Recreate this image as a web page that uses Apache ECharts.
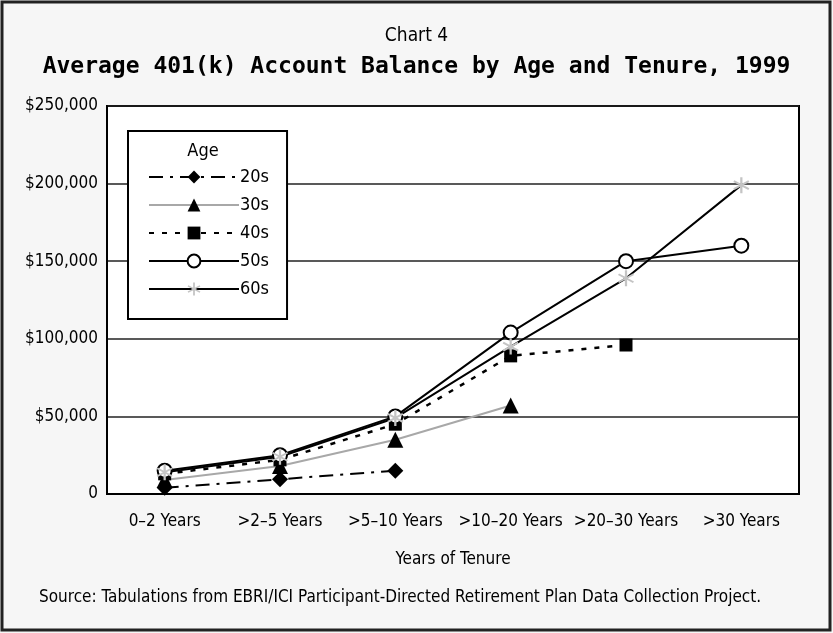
<!DOCTYPE html>
<html>
<head>
<meta charset="utf-8">
<script src="https://cdn.jsdelivr.net/npm/echarts@6/dist/echarts.min.js"></script>
<style>
	html, body { margin: 0; padding: 0; background: #fff; }
	#chart { width: 833px; height: 633px; }
</style>
</head>
<body>
<div id="chart"></div>
<script>
	var tenure = ['0\u20132 Years', '>2\u20135 Years', '>5\u201310 Years', '>10\u201320 Years', '>20\u201330 Years', '>30 Years'];
	var age20s = [4000, 9500, 15000];
	var age30s = [9000, 18000, 35000, 57000];
	var age40s = [13000, 22000, 45000, 89000, 96000];
	var age50s = [15000, 25000, 50000, 104000, 150000, 160000];
	var age60s = [14000, 24000, 49000, 95000, 139000, 199000];
	var yTicks = [0, 50000, 100000, 150000, 200000, 250000];

	var narrow = "'DejaVu Sans Condensed', 'Liberation Sans', sans-serif";
	// asterisk marker, three bars
	var asterisk = 'path://M-1.3,-10L1.3,-10L1.3,10L-1.3,10Z' +
		'M8.06,6.04L-9.26,-3.96L-8.06,-6.04L9.26,3.96Z' +
		'M-8.06,6.04L-9.26,3.96L8.06,-6.04L9.26,-3.96Z';

	function money(v) {
		if (v === 0) return '0';
		return '$' + v.toString().replace(/\B(?=(\d{3})+(?!\d))/g, ',');
	}

	var chart = echarts.init(document.getElementById('chart'));
	var option = {
		backgroundColor: '#f6f6f6',
		animation: false,
		title: [{
				text: 'Chart 4',
				left: 'center',
				top: 22,
				textStyle: { fontFamily: narrow, fontSize: 19, fontWeight: 'normal', color: '#000' }
			},
			{
				text: 'Average 401(k) Account Balance by Age and Tenure, 1999',
				left: 'center',
				top: 51,
				textStyle: { fontFamily: "'DejaVu Sans Mono', monospace", fontSize: 23, fontWeight: 'bold', color: '#000' }
			},
			{
				text: 'Source: Tabulations from EBRI/ICI Participant-Directed Retirement Plan Data Collection Project.',
				left: 34,
				top: 584,
				textStyle: { fontFamily: narrow, fontSize: 17, fontWeight: 'normal', color: '#000' }
			}
		],
		graphic: [{
				type: 'rect',
				z: 100,
				shape: { x: 2, y: 2, width: 828, height: 628 },
				style: { fill: 'none', stroke: '#222', lineWidth: 3 }
			},
			{
				type: 'text',
				z: 100,
				style: { x: 203, y: 151, text: 'Age', align: 'center', verticalAlign: 'middle', font: '18px ' + narrow, fill: '#000' }
			}
		],
		legend: {
			orient: 'vertical',
			left: 128,
			top: 131,
			padding: [37, 18, 21, 20],
			itemWidth: 90,
			itemHeight: 16,
			itemGap: 10,
			backgroundColor: '#fff',
			borderColor: '#000',
			borderWidth: 2,
			textStyle: { fontFamily: narrow, fontSize: 18, color: '#000', padding: [0, 0, 0, -4] },
			data: ['20s', '30s', '40s', '50s', '60s']
		},
		grid: {
			left: 107,
			right: 34,
			top: 106,
			bottom: 139,
			show: true,
			backgroundColor: '#fff',
			borderColor: '#000',
			borderWidth: 2
		},
		xAxis: {
			type: 'category',
			data: tenure,
			name: 'Years of Tenure',
			nameLocation: 'middle',
			nameGap: 57,
			nameTextStyle: { fontFamily: narrow, fontSize: 17, color: '#000' },
			axisLine: { lineStyle: { color: '#000', width: 2 } },
			axisTick: { inside: true, length: 6, lineStyle: { color: '#000' } },
			axisLabel: { fontFamily: narrow, fontSize: 17, color: '#000', margin: 19, interval: 0 }
		},
		yAxis: {
			type: 'value',
			min: yTicks[0],
			max: yTicks[yTicks.length - 1],
			interval: yTicks[1] - yTicks[0],
			axisLine: { show: true, lineStyle: { color: '#000', width: 2 } },
			axisTick: { show: false },
			splitLine: { lineStyle: { color: '#222', width: 1.5 } },
			axisLabel: { fontFamily: narrow, fontSize: 17, color: '#000', margin: 9, formatter: money }
		},
		series: [{
				name: '20s',
				type: 'line',
				data: age20s,
				symbol: 'diamond',
				symbolSize: 16,
				itemStyle: { color: '#000' },
				lineStyle: { color: '#000', width: 2, type: [14, 7, 3, 7] }
			},
			{
				name: '30s',
				type: 'line',
				data: age30s,
				symbol: 'triangle',
				symbolSize: 16,
				itemStyle: { color: '#000' },
				lineStyle: { color: '#a8a8a8', width: 2 }
			},
			{
				name: '40s',
				type: 'line',
				data: age40s,
				symbol: 'rect',
				symbolSize: 13,
				itemStyle: { color: '#000' },
				lineStyle: { color: '#000', width: 2.5, type: [5, 8] }
			},
			{
				name: '50s',
				type: 'line',
				data: age50s,
				symbol: 'circle',
				symbolSize: 14,
				itemStyle: { color: '#fff', borderColor: '#000', borderWidth: 2 },
				lineStyle: { color: '#000', width: 2 }
			},
			{
				name: '60s',
				type: 'line',
				data: age60s,
				symbol: asterisk,
				symbolSize: 16,
				itemStyle: { color: '#c4c4c4' },
				lineStyle: { color: '#000', width: 2 }
			}
		]
	};
	chart.setOption(option);
</script>
</body>
</html>
